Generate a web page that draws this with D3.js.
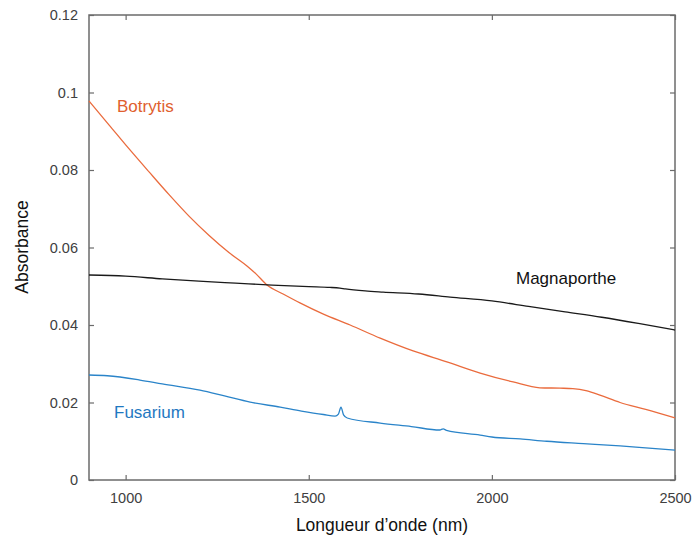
<!DOCTYPE html>
<html><head><meta charset="utf-8">
<script src="https://cdn.jsdelivr.net/npm/d3@7"></script>
<style>body{margin:0;background:#fff}svg{display:block}</style>
</head><body>
<svg id="c" width="697" height="542"></svg>
<script>
const xTicks = [1000, 1500, 2000, 2500];
const yTicks = [0, 0.02, 0.04, 0.06, 0.08, 0.1, 0.12];
const yTickLabels = ["0", "0.02", "0.04", "0.06", "0.08", "0.1", "0.12"];

const botrytisX = [900, 955, 1009, 1064, 1118, 1173, 1228, 1282, 1337, 1356, 1386, 1430, 1476, 1540, 1613, 1695, 1785, 1877, 1968, 2058, 2131, 2186, 2221, 2260, 2295, 2350, 2420, 2500];
const botrytisY = [0.0978, 0.0916, 0.0855, 0.0795, 0.0737, 0.0681, 0.0631, 0.0587, 0.0548, 0.0532, 0.0503, 0.0480, 0.0457, 0.0428, 0.0400, 0.0366, 0.0333, 0.0305, 0.0276, 0.0253, 0.0238, 0.0237, 0.0236, 0.0230, 0.0219, 0.0200, 0.0182, 0.0160];

const magnaX = [900, 1000, 1100, 1200, 1300, 1400, 1500, 1558, 1585, 1600, 1654, 1703, 1800, 1886, 2000, 2100, 2200, 2300, 2400, 2500];
const magnaY = [0.0529, 0.0526, 0.0519, 0.0513, 0.0508, 0.0503, 0.0499, 0.0497, 0.0495, 0.0493, 0.0488, 0.0485, 0.0480, 0.0472, 0.0462, 0.0448, 0.0434, 0.0420, 0.0404, 0.0387];

const fusX = [900, 950, 1039, 1100, 1203, 1270, 1340, 1422, 1480, 1540, 1572, 1581, 1588, 1595, 1605, 1695, 1780, 1858, 1867, 1876, 1968, 2000, 2077, 2150, 2250, 2350, 2420, 2500];
const fusY = [0.0271, 0.0269, 0.0258, 0.0248, 0.0232, 0.0217, 0.0201, 0.0188, 0.0178, 0.0169, 0.0165, 0.0170, 0.0188, 0.0168, 0.0160, 0.0147, 0.0138, 0.0129, 0.0132, 0.0128, 0.0116, 0.0111, 0.0106, 0.0100, 0.0094, 0.0088, 0.0083, 0.0077];

const seriesNames = ["Botrytis", "Magnaporthe", "Fusarium"];

const svg = d3.select("#c");
const L = 89, R = 675, T = 15, B = 480;
const x = d3.scaleLinear().domain([900, 2500]).range([L, R]);
const y = d3.scaleLinear().domain([0, 0.12]).range([B, T]);
const axisColor = "#6b6b6b";
const tickColor = "#404040";

svg.append("rect").attr("x", L).attr("y", T).attr("width", R - L).attr("height", B - T)
  .attr("fill", "none").attr("stroke", axisColor).attr("stroke-width", 1.5);

const gx = svg.append("g").attr("transform", `translate(0,${B})`)
  .call(d3.axisBottom(x).tickValues(xTicks).tickSizeInner(-5).tickSizeOuter(0).tickPadding(13).tickFormat(d3.format("d")));
const gxTop = svg.append("g").attr("transform", `translate(0,${T})`)
  .call(d3.axisTop(x).tickValues(xTicks).tickSizeInner(-5).tickSizeOuter(0).tickFormat(""));
const gy = svg.append("g").attr("transform", `translate(${L},0)`)
  .call(d3.axisLeft(y).tickValues(yTicks).tickSizeInner(-5).tickSizeOuter(0).tickPadding(11).tickFormat((d, i) => yTickLabels[i]));
const gyR = svg.append("g").attr("transform", `translate(${R},0)`)
  .call(d3.axisRight(y).tickValues(yTicks).tickSizeInner(-5).tickSizeOuter(0).tickFormat(""));
[gx, gxTop, gy, gyR].forEach(g => {
  g.select(".domain").remove();
  g.selectAll(".tick line").attr("stroke", axisColor).attr("stroke-width", 1.2);
  g.selectAll("text").attr("fill", tickColor).style("font-family", "Liberation Sans, Arial, sans-serif").style("font-size", "14.5px");
});

const line = d3.line().x(d => x(d[0])).y(d => y(d[1])).curve(d3.curveMonotoneX);
const toPts = (xs, ys) => xs.map((v, i) => [v, ys[i]]);

const series = [
  {name: seriesNames[0], pts: toPts(botrytisX, botrytisY), color: "#ea6b3d", w: 1.3},
  {name: seriesNames[1], pts: toPts(magnaX, magnaY), color: "#1a1a1a", w: 1.3},
  {name: seriesNames[2], pts: toPts(fusX, fusY), color: "#2a84c9", w: 1.3}
];
series.forEach(s => {
  svg.append("path").datum(s.pts).attr("d", line).attr("fill", "none")
    .attr("stroke", s.color).attr("stroke-width", s.w);
});

const lblFont = "Liberation Sans, Arial, sans-serif";
svg.append("text").attr("x", 117).attr("y", 112).text(seriesNames[0])
  .attr("fill", "#e0602e").style("font-family", lblFont).style("font-size", "17px");
svg.append("text").attr("x", 516).attr("y", 284).text(seriesNames[1])
  .attr("fill", "#111").style("font-family", lblFont).style("font-size", "17px");
svg.append("text").attr("x", 114).attr("y", 418).text(seriesNames[2])
  .attr("fill", "#1f78c1").style("font-family", lblFont).style("font-size", "17px");

svg.append("text").attr("x", 382).attr("y", 531).attr("text-anchor", "middle")
  .text("Longueur d’onde (nm)").attr("fill", "#111").style("font-family", lblFont).style("font-size", "17.5px");
svg.append("text").attr("transform", "translate(28,247) rotate(-90)").attr("text-anchor", "middle")
  .text("Absorbance").attr("fill", "#111").style("font-family", lblFont).style("font-size", "17.5px");
</script>
</body></html>
